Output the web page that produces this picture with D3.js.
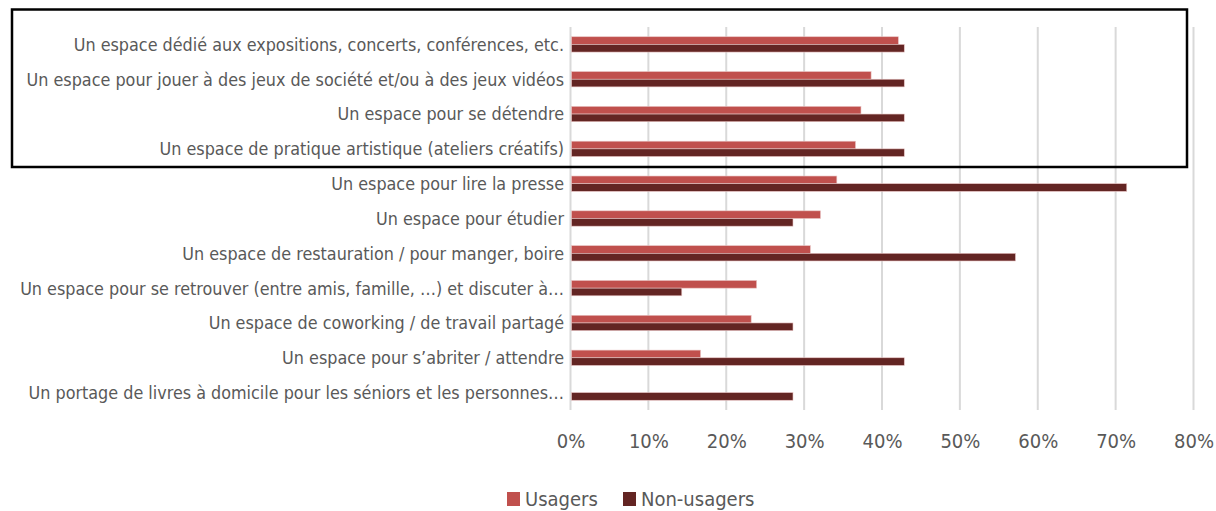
<!DOCTYPE html>
<html><head><meta charset="utf-8">
<script src="https://cdn.jsdelivr.net/npm/d3@7/dist/d3.min.js"></script>
<style>
html,body{margin:0;padding:0;background:#fff;}
svg text{font-family:"Liberation Sans Narrow","DejaVu Sans Condensed","Roboto Condensed","Liberation Sans",sans-serif;fill:#595959;}
</style></head>
<body><svg id="chart" width="1216" height="511"></svg>
<script>
const categories = [
  "Un espace dédié aux expositions, concerts, conférences, etc.",
  "Un espace pour jouer à des jeux de société et/ou à des jeux vidéos",
  "Un espace pour se détendre",
  "Un espace de pratique artistique (ateliers créatifs)",
  "Un espace pour lire la presse",
  "Un espace pour étudier",
  "Un espace de restauration / pour manger, boire",
  "Un espace pour se retrouver (entre amis, famille, …) et discuter à…",
  "Un espace de coworking / de travail partagé",
  "Un espace pour s’abriter / attendre",
  "Un portage de livres à domicile pour les séniors et les personnes…"
];
const usagers    = [0.421, 0.386, 0.373, 0.366, 0.342, 0.321, 0.308, 0.239, 0.232, 0.167, 0];
const nonUsagers = [0.4286, 0.4286, 0.4286, 0.4286, 0.7143, 0.2857, 0.5714, 0.1429, 0.2857, 0.4286, 0.2857];
const seriesNames = ["Usagers", "Non-usagers"];
const tickValues = [0, 0.1, 0.2, 0.3, 0.4, 0.5, 0.6, 0.7, 0.8];

const colors = {"Usagers": "#C0504D", "Non-usagers": "#632523"};
const svg = d3.select("#chart");

const x = d3.scaleLinear().domain([0, 0.8]).range([570.5, 1193.5]);
const y = d3.scaleBand().domain(categories).range([27, 410]).paddingInner(0.56).paddingOuter(0.28);
const sub = d3.scaleBand().domain(seriesNames).range([0, y.bandwidth()]);

// gridlines
svg.append("g").selectAll("line").data(tickValues).join("line")
  .attr("x1", d => x(d)).attr("x2", d => x(d))
  .attr("y1", 27).attr("y2", 410)
  .attr("stroke", "#d9d9d9").attr("stroke-width", 2);

// bars
const rows = categories.map((c, i) => ({c, vals: [
  {s: "Usagers", v: usagers[i]}, {s: "Non-usagers", v: nonUsagers[i]}]}));
const g = svg.append("g");
g.selectAll("g").data(rows).join("g")
  .attr("transform", d => `translate(0,${y(d.c)})`)
  .selectAll("rect").data(d => d.vals.filter(e => e.v > 0)).join("rect")
  .attr("x", x(0) + 1)
  .attr("y", d => sub(d.s))
  .attr("width", d => x(d.v) - x(0) - 1)
  .attr("height", sub.bandwidth())
  .attr("fill", d => colors[d.s])
  .attr("stroke", "#e8c4c3").attr("stroke-width", 0.6);

// category labels, sized so the longest fits the left margin
const labels = svg.append("g").selectAll("text").data(categories).join("text")
  .attr("x", 564).attr("y", d => y(d) + y.bandwidth() / 2)
  .attr("dy", "0.36em").attr("text-anchor", "end")
  .attr("font-size", 19).text(d => d);
let maxW = 0;
labels.each(function() { maxW = Math.max(maxW, this.getComputedTextLength()); });
const fs = Math.min(19, 19 * 544 / maxW);
labels.attr("font-size", fs);

// x axis tick labels
const xAxis = d3.axisBottom(x).tickValues(tickValues).tickFormat(d3.format(".0%")).tickSize(0).tickPadding(0);
const ax = svg.append("g").attr("transform", "translate(0,434)").call(xAxis);
ax.select(".domain").remove();
ax.selectAll("text").attr("font-size", 20).attr("dy", "0.71em")
  .attr("font-family", null);

// legend
const leg = svg.append("g");
const legX = [507, 623];
seriesNames.forEach((s, i) => {
  leg.append("rect").attr("x", legX[i]).attr("y", 492).attr("width", 13).attr("height", 14).attr("fill", colors[s]);
  leg.append("text").attr("x", legX[i] + 18).attr("y", 506).attr("font-size", 20).text(s);
});

// highlight box
svg.append("rect").attr("x", 12).attr("y", 9.5).attr("width", 1175).attr("height", 157.5)
  .attr("fill", "none").attr("stroke", "#000").attr("stroke-width", 2.5);
</script></body></html>
